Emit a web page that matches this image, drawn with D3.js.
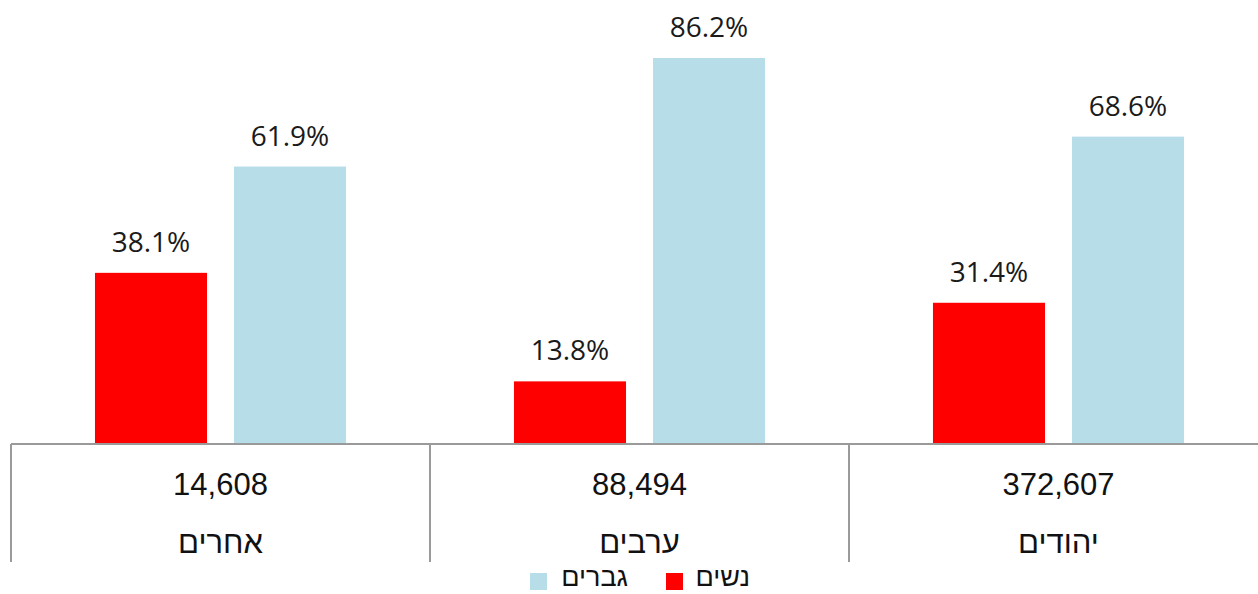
<!DOCTYPE html>
<html>
<head>
<meta charset="utf-8">
<script src="https://cdn.jsdelivr.net/npm/d3@7"></script>
<style>
  html, body { margin: 0; padding: 0; background: #fff; overflow: hidden; }
  svg { display: block; }
</style>
</head>
<body>
<svg id="chart" width="1258" height="594"></svg>
<script>
const categories = ["אחרים", "ערבים", "יהודים"];
const totals = ["14,608", "88,494", "372,607"];
const seriesNames = ["נשים", "גברים"];
const women = [38.1, 13.8, 31.4];
const men = [61.9, 86.2, 68.6];
const colors = ["#FF0000", "#B7DDE8"];

const svg = d3.select("#chart");
const W = 1258, H = 594;
const baseY = 443;
const left = 11, catW = 419;

const x0 = d3.scaleBand().domain(categories).range([left, left + catW * 3]).paddingInner(0).paddingOuter(0);
const x1 = d3.scaleBand().domain(seriesNames).range([0, catW]).paddingInner(0.194).paddingOuter(0.604);
const y = d3.scaleLinear().domain([0, 100]).range([baseY, baseY - 446.6]);

const data = categories.map((c, i) => ({ cat: c, vals: [women[i], men[i]] }));

const g = svg.append("g");
data.forEach(d => {
  d.vals.forEach((v, j) => {
    const bx = x0(d.cat) + x1(seriesNames[j]);
    g.append("rect")
      .attr("x", bx)
      .attr("y", y(v))
      .attr("width", x1.bandwidth())
      .attr("height", y(0) - y(v))
      .attr("fill", colors[j]);
    g.append("text")
      .attr("x", bx + x1.bandwidth() / 2)
      .attr("y", y(v) - 21)
      .attr("text-anchor", "middle")
      .attr("font-family", "'Open Sans', sans-serif")
      .attr("font-size", 28)
      .attr("fill", "#1a1a1a")
      .text(v.toFixed(1) + "%");
  });
});

// axis lines
const axisColor = "#9a9a9a";
svg.append("line")
  .attr("x1", left).attr("x2", W).attr("y1", baseY + 1).attr("y2", baseY + 1)
  .attr("stroke", axisColor).attr("stroke-width", 2);
const bounds = [left, left + catW, left + 2 * catW];
bounds.forEach(bx => {
  svg.append("line")
    .attr("x1", bx).attr("x2", bx).attr("y1", baseY + 1).attr("y2", 562)
    .attr("stroke", axisColor).attr("stroke-width", 2);
});

// category labels
categories.forEach((c, i) => {
  const cx = x0(c) + x0.bandwidth() / 2;
  svg.append("text")
    .attr("x", cx).attr("y", 495)
    .attr("text-anchor", "middle")
    .attr("font-family", "'Liberation Sans', Arial, sans-serif")
    .attr("font-size", 31)
    .attr("fill", "#111")
    .text(totals[i]);
  svg.append("text")
    .attr("x", cx).attr("y", 553)
    .attr("text-anchor", "middle")
    .attr("font-family", "'Liberation Sans', Arial, sans-serif")
    .attr("font-size", 31)
    .attr("fill", "#111")
    .attr("direction", "rtl")
    .text(c);
});

// legend
const legendItems = [
  { name: seriesNames[1], color: colors[1], sx: 530, tx: 628 },
  { name: seriesNames[0], color: colors[0], sx: 666, tx: 750 }
];
legendItems.forEach(it => {
  svg.append("rect")
    .attr("x", it.sx).attr("y", 573).attr("width", 17).attr("height", 17)
    .attr("fill", it.color);
  svg.append("text")
    .attr("x", it.tx).attr("y", 586)
    .attr("text-anchor", "end")
    .attr("font-family", "'Liberation Sans', Arial, sans-serif")
    .attr("font-size", 27)
    .attr("fill", "#111")
    .text(it.name);
});
</script>
</body>
</html>
